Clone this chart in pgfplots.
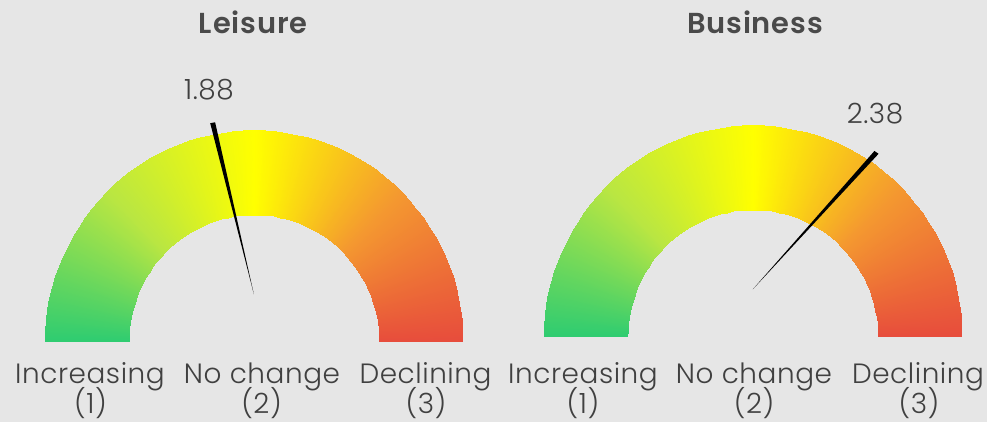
\documentclass[border=0pt]{standalone}
\usepackage{pgfplots}
\pgfplotsset{compat=1.18}
\usepackage{pgfplotstable}
\usepackage{fontspec}
\setmainfont{Poppins Light}[LetterSpace=2]
\newfontfamily\titlefont{Poppins SemiBold}[LetterSpace=3]
\definecolor{bg}{RGB}{230,230,230}
\definecolor{txt}{RGB}{64,64,64}
\definecolor{ttl}{RGB}{74,74,74}

% needle: value v, tip radius r, angular offset d (deg), base height h
\pgfplotstableread{
v r d h
1.88 0 0 0.225
1.88 1.053 0.65 0
1.88 1.053 -0.65 0
}\leisure
\pgfplotstableread{
v r d h
2.38 0 0 0.225
2.38 1.053 0.65 0
2.38 1.053 -0.65 0
}\business

\pgfplotsset{gauge/.style={
  hide axis, scale only axis, width=459.8bp, height=233.2bp,
  xmin=-1.1, xmax=1.1, ymin=0, ymax=1.1, view={0}{90}, clip=false,
  anchor=south west,
  colormap={gauge}{rgb255(0)=(231,76,60) rgb255(1)=(244,152,48) rgb255(2)=(255,255,0) rgb255(3)=(185,230,66) rgb255(4)=(46,204,113)},
  point meta min=0, point meta max=180,
},
band/.style={surf, shader=interp, domain=0:180, y domain=0.6:1, samples=61, samples y=2, point meta=z},
}

\begin{document}
\begin{tikzpicture}
\fill[bg] (0,0) rectangle (987bp,422bp);
\begin{axis}[gauge, at={(24bp,80bp)}]
\addplot3[band] ({y*cos(x)}, {y*sin(x)}, {x});
\addplot3[fill=black, draw=none] table[x expr={\thisrow{r}*cos(180-(\thisrow{v}-1)*90+\thisrow{d})}, y expr={\thisrow{r}*sin(180-(\thisrow{v}-1)*90+\thisrow{d})+\thisrow{h}}, z expr=0] {\leisure};
\end{axis}
\begin{axis}[gauge, at={(522.9bp,85bp)}]
\addplot3[band] ({y*cos(x)}, {y*sin(x)}, {x});
\addplot3[fill=black, draw=none] table[x expr={\thisrow{r}*cos(180-(\thisrow{v}-1)*90+\thisrow{d})}, y expr={\thisrow{r}*sin(180-(\thisrow{v}-1)*90+\thisrow{d})+\thisrow{h}}, z expr=0] {\business};
\end{axis}
\begin{scope}[every node/.style={anchor=base, inner sep=0pt, text=txt, font=\fontsize{28}{32}\selectfont}]
\node[text=ttl, font=\fontsize{29}{32}\selectfont\titlefont] at (253.3bp,388.7bp) {Leisure};
\node[text=ttl, font=\fontsize{29}{32}\selectfont\titlefont] at (755bp,388.7bp) {Business};
\node at (209bp,322.7bp) {1.88};
\node at (875bp,298.7bp) {2.38};
\node at (90bp,38.7bp) {Increasing};
\node at (90.5bp,9bp) {(1)};
\node at (262bp,38.7bp) {No change};
\node at (261.5bp,9bp) {(2)};
\node at (425.5bp,38.7bp) {Declining};
\node at (426bp,9bp) {(3)};
\node at (583bp,38.7bp) {Increasing};
\node at (583bp,9bp) {(1)};
\node at (754bp,38.7bp) {No change};
\node at (754bp,9bp) {(2)};
\node at (918bp,38.7bp) {Declining};
\node at (919bp,9bp) {(3)};
\end{scope}
\end{tikzpicture}
\end{document}
